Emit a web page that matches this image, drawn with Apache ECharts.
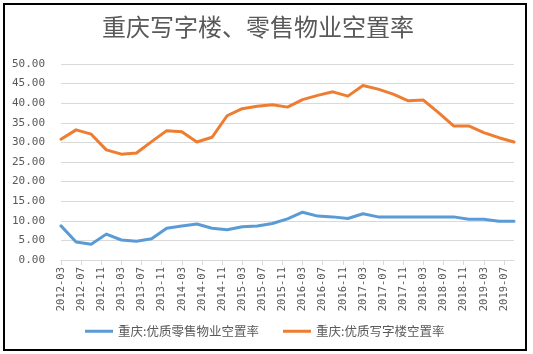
<!DOCTYPE html>
<html>
<head>
<meta charset="utf-8">
<script src="https://cdn.jsdelivr.net/npm/echarts@6/dist/echarts.min.js"></script>
<style>
  html, body { margin: 0; padding: 0; background: #fff; }
  #main { width: 533px; height: 354px; }
</style>
</head>
<body>
<div id="main"></div>
<script>
// quarterly observations
const quarters = [
  '2012-03', '2012-06', '2012-09', '2012-12',
  '2013-03', '2013-06', '2013-09', '2013-12',
  '2014-03', '2014-06', '2014-09', '2014-12',
  '2015-03', '2015-06', '2015-09', '2015-12',
  '2016-03', '2016-06', '2016-09', '2016-12',
  '2017-03', '2017-06', '2017-09', '2017-12',
  '2018-03', '2018-06', '2018-09', '2018-12',
  '2019-03', '2019-06', '2019-09'
];
const retailVacancy = [
  8.7, 4.6, 4.0, 6.6, 5.1, 4.8, 5.4, 8.1,
  8.7, 9.2, 8.1, 7.7, 8.5, 8.7, 9.3, 10.5,
  12.2, 11.2, 11.0, 10.6, 11.8, 11.0, 11.0, 11.0,
  11.0, 11.0, 11.0, 10.4, 10.4, 9.9, 9.9
];
const officeVacancy = [
  30.8, 33.2, 32.1, 28.1, 27.0, 27.3, 30.2, 33.0,
  32.7, 30.1, 31.3, 36.8, 38.6, 39.2, 39.6, 39.0,
  40.9, 42.0, 42.9, 41.8, 44.5, 43.6, 42.3, 40.6,
  40.8, 37.6, 34.2, 34.2, 32.5, 31.2, 30.1
];
const seriesNames = ['重庆:优质零售物业空置率', '重庆:优质写字楼空置率'];

// monthly axis, 2012-03 .. 2019-09 (labels every 4 months)
const months = [];
for (let y = 2012; y <= 2019; y++) {
  for (let m = 1; m <= 12; m++) {
    if (y === 2012 && m < 3) continue;
    if (y === 2019 && m > 9) continue;
    months.push(y + '-' + (m < 10 ? '0' + m : m));
  }
}

const gray = '#595959';
const mono = '"DejaVu Sans Mono", monospace';
const cjk = '"Noto Sans CJK SC", sans-serif';

var myChart = echarts.init(document.getElementById('main'));
var option = {
  animation: false,
  title: {
    text: '重庆写字楼、零售物业空置率',
    left: 102,
    top: 15,
    padding: 0,
    textStyle: { fontFamily: cjk, fontSize: 24, fontWeight: 'normal', color: gray }
  },
  legend: {
    left: 85,
    top: 325,
    padding: 0,
    icon: 'rect',
    itemWidth: 28,
    itemHeight: 3,
    itemGap: 24,
    textStyle: { fontFamily: cjk, fontSize: 12.5, color: gray }
  },
  grid: { left: 61, right: 19, top: 64, bottom: 94 },
  xAxis: {
    type: 'category',
    data: months,
    boundaryGap: false,
    axisLine: { lineStyle: { color: '#d9d9d9' } },
    axisTick: { interval: 3, length: 5, lineStyle: { color: '#d9d9d9' } },
    axisLabel: {
      interval: 3,
      rotate: 90,
      margin: 7,
      fontFamily: mono,
      fontSize: 10.5,
      color: gray
    }
  },
  yAxis: {
    type: 'value',
    min: 0,
    max: 50,
    interval: 5,
    axisLine: { show: false },
    axisTick: { show: false },
    splitLine: { lineStyle: { color: '#d9d9d9' } },
    axisLabel: {
      margin: 16,
      fontFamily: mono,
      fontSize: 11,
      color: gray,
      formatter: (v) => v.toFixed(2)
    }
  },
  series: [
    {
      name: seriesNames[0],
      type: 'line',
      showSymbol: false,
      data: quarters.map((q, i) => [q, retailVacancy[i]]),
      itemStyle: { color: '#5b9bd5' },
      lineStyle: { width: 3, color: '#5b9bd5', cap: 'round', join: 'round' }
    },
    {
      name: seriesNames[1],
      type: 'line',
      showSymbol: false,
      data: quarters.map((q, i) => [q, officeVacancy[i]]),
      itemStyle: { color: '#ed7d31' },
      lineStyle: { width: 3, color: '#ed7d31', cap: 'round', join: 'round' }
    }
  ],
  graphic: [
    {
      type: 'rect',
      shape: { x: 4, y: 4, width: 522, height: 346 },
      style: { fill: 'none', stroke: '#000', lineWidth: 2 },
      silent: true
    }
  ]
};
myChart.setOption(option);
</script>
</body>
</html>
